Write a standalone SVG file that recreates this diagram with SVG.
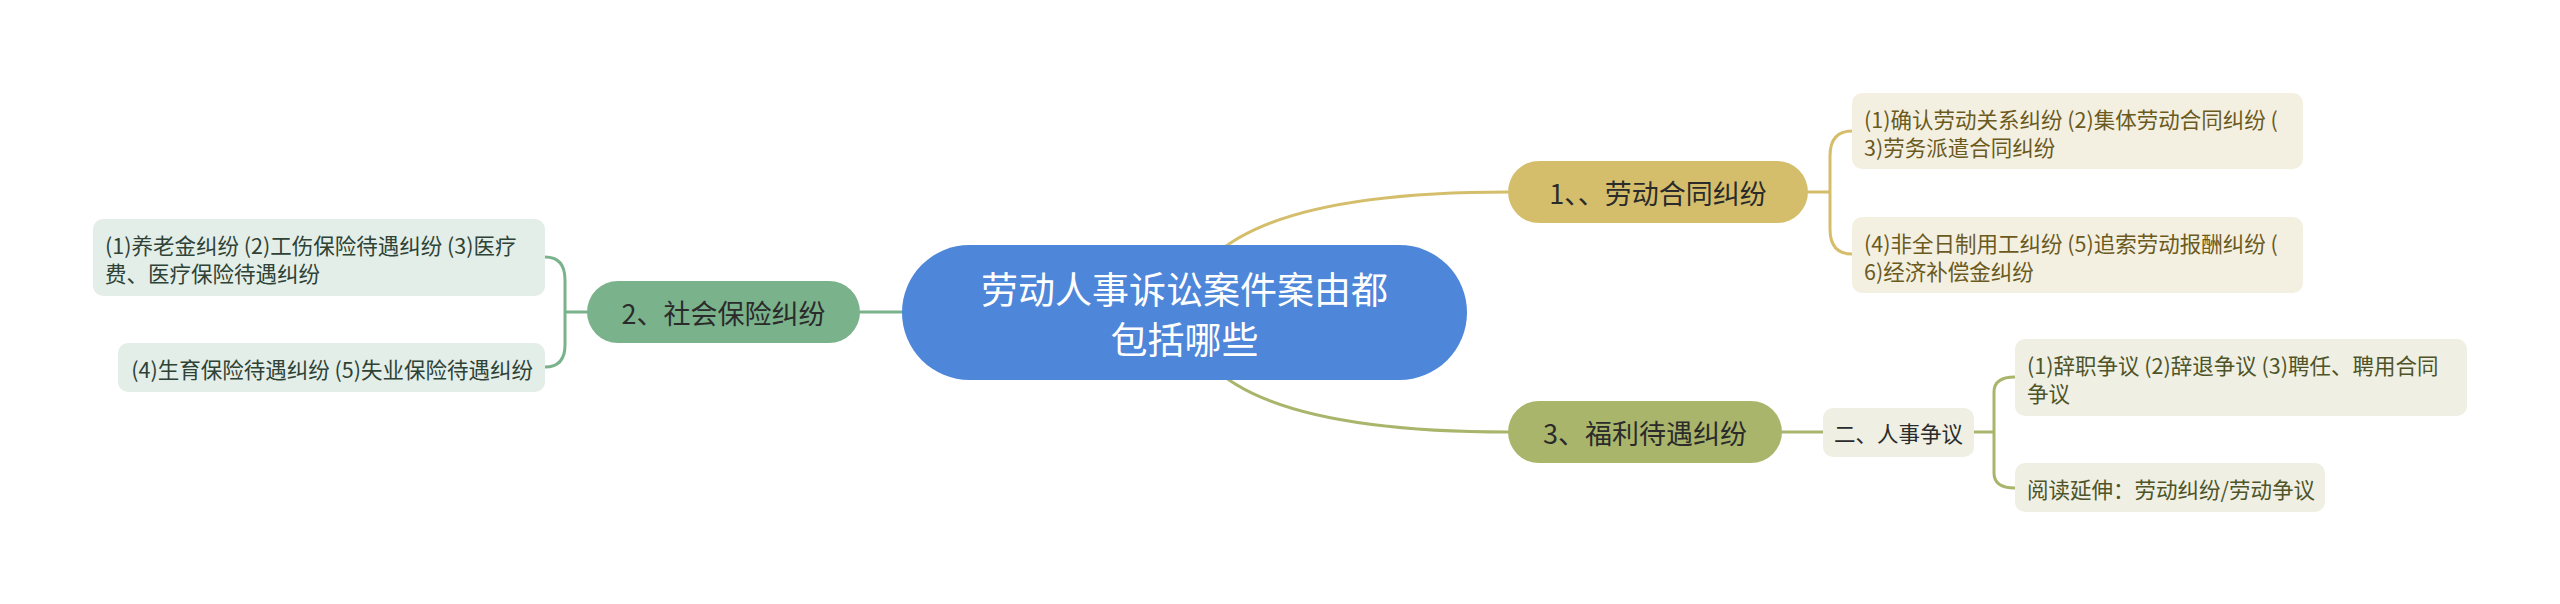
<svg xmlns="http://www.w3.org/2000/svg" width="2560" height="604" viewBox="0 0 2560 604">
<style>
text{font-family:"Noto Sans CJK SC","Noto Sans",sans-serif;}
.conn{fill:none;stroke-width:3;stroke-linecap:round;}
.gold{stroke:#D5BE6B;}
.olive{stroke:#AAB56C;}
.green{stroke:#7AB28B;}
.main{font-size:27px;fill:#2B2B2B;}
.leaf{font-size:21.5px;}
.lg{fill:#6B5A1E;}
.lo{fill:#4E5427;}
.lgr{fill:#2E4236;}
</style>
<rect width="2560" height="604" fill="#FFFFFF"/>
<g id="connectors">
<path class="conn gold" d="M1184,312 Q1200,192 1508,192"/>
<path class="conn olive" d="M1184,312 Q1200,432 1508,432"/>
<path class="conn green" d="M860,312 L902,312"/>
<path class="conn gold" d="M1808,192 L1830,192 M1852,131 Q1830,131 1830,156 L1830,229 Q1830,254 1852,254"/>
<path class="conn olive" d="M1782,432 L1823,432 M1974,432 L1994,432 M2015,377 Q1994,377 1994,392 L1994,473 Q1994,488 2015,488"/>
<path class="conn green" d="M587,312 L565,312 M545,257 Q565,257 565,280 L565,345 Q565,367 545,367"/>
</g>
<g id="root">
<rect x="902" y="245" width="565" height="135" rx="67.5" fill="#4E86DA"/>
<text x="1184.5" y="288" font-size="37" fill="#FFFFFF" text-anchor="middle" dominant-baseline="central">劳动人事诉讼案件案由都</text>
<text x="1184.5" y="338" font-size="37" fill="#FFFFFF" text-anchor="middle" dominant-baseline="central">包括哪些</text>
</g>
<g id="node1">
<rect x="1508" y="161" width="300" height="62" rx="31" fill="#D5BE6B"/>
<text class="main" x="1658" y="192" text-anchor="middle" dominant-baseline="central">1、、劳动合同纠纷</text>
</g>
<g id="node3">
<rect x="1508" y="401" width="274" height="62" rx="31" fill="#AAB56C"/>
<text class="main" x="1645" y="432" text-anchor="middle" dominant-baseline="central">3、福利待遇纠纷</text>
</g>
<g id="node2">
<rect x="587" y="281" width="273" height="62" rx="31" fill="#7AB28B"/>
<text class="main" x="723.5" y="312" text-anchor="middle" dominant-baseline="central">2、社会保险纠纷</text>
</g>
<g id="leaf1a">
<rect x="1852" y="93" width="451" height="76" rx="10" fill="#F4F0E1"/>
<text class="leaf lg" x="1864" y="118" dominant-baseline="central">(1)确认劳动关系纠纷 (2)集体劳动合同纠纷 (</text>
<text class="leaf lg" x="1864" y="146" dominant-baseline="central">3)劳务派遣合同纠纷</text>
</g>
<g id="leaf1b">
<rect x="1852" y="217" width="451" height="76" rx="10" fill="#F4F0E1"/>
<text class="leaf lg" x="1864" y="242" dominant-baseline="central">(4)非全日制用工纠纷 (5)追索劳动报酬纠纷 (</text>
<text class="leaf lg" x="1864" y="270" dominant-baseline="central">6)经济补偿金纠纷</text>
</g>
<g id="node3-1">
<rect x="1823" y="408" width="151" height="49" rx="10" fill="#EFEFE4"/>
<text class="leaf" x="1898.5" y="432.5" fill="#2B2B2B" text-anchor="middle" dominant-baseline="central">二、人事争议</text>
</g>
<g id="leaf3a">
<rect x="2015" y="339" width="452" height="77" rx="10" fill="#EFEFE4"/>
<text class="leaf lo" x="2027" y="364" dominant-baseline="central">(1)辞职争议 (2)辞退争议 (3)聘任、聘用合同</text>
<text class="leaf lo" x="2027" y="392" dominant-baseline="central">争议</text>
</g>
<g id="leaf3b">
<rect x="2015" y="463" width="310" height="49" rx="10" fill="#EFEFE4"/>
<text class="leaf lo" x="2027" y="488" dominant-baseline="central">阅读延伸：劳动纠纷/劳动争议</text>
</g>
<g id="leaf2a">
<rect x="93" y="219" width="452" height="77" rx="10" fill="#E4EEE8"/>
<text class="leaf lgr" x="105" y="244" dominant-baseline="central">(1)养老金纠纷 (2)工伤保险待遇纠纷 (3)医疗</text>
<text class="leaf lgr" x="105" y="272" dominant-baseline="central">费、医疗保险待遇纠纷</text>
</g>
<g id="leaf2b">
<rect x="118" y="343" width="427" height="49" rx="10" fill="#E4EEE8"/>
<text class="leaf lgr" x="533" y="368" text-anchor="end" dominant-baseline="central">(4)生育保险待遇纠纷 (5)失业保险待遇纠纷</text>
</g>
</svg>
